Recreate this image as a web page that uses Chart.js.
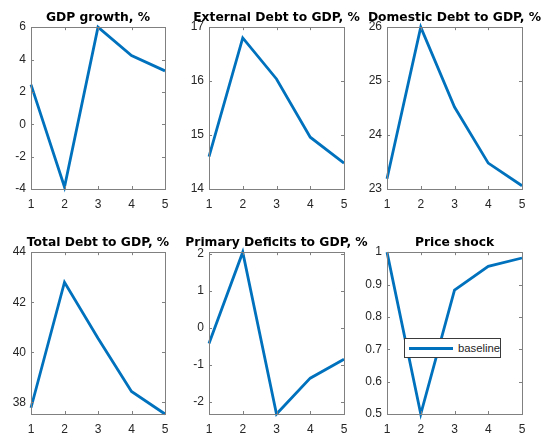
<!DOCTYPE html>
<html>
<head>
<meta charset="utf-8">
<script src="https://cdn.jsdelivr.net/npm/chart.js@4.4.1/dist/chart.umd.min.js"></script>
<style>
html, body { margin: 0; padding: 0; background: #fff; width: 542px; height: 433px; overflow: hidden; }
canvas { position: absolute; }
#legend {
    position: absolute; left: 404px; top: 338px; width: 95px; height: 18px;
    border: 1px solid #3a3a3a; background: #fff;
    font-family: 'Liberation Sans', Arial, sans-serif; font-size: 11.3px; color: #262626;
}
#legend .swatch { position: absolute; left: 4px; top: 8px; width: 44px; height: 3px; background: #0072BD; }
#legend .label { position: absolute; left: 53px; top: 2px; line-height: 14px; }
</style>
</head>
<body>
<div id="legend"><span class="swatch"></span><span class="label">baseline</span></div>
<script>
// horizon (x axis)
const periods = ['1', '2', '3', '4', '5'];

// series
const gdpGrowth     = [2.45, -3.88, 6.0, 4.25, 3.3];
const externalDebt  = [14.6, 16.8, 16.04, 14.96, 14.48];
const domesticDebt  = [23.19, 26.0, 24.52, 23.48, 23.06];
const totalDebt     = [37.79, 42.8, 40.56, 38.44, 37.54];
const primaryDef    = [-0.42, 2.05, -2.33, -1.36, -0.85];
const priceShock    = [1.0, 0.5, 0.883, 0.956, 0.982];

// y tick labels
const gdpTicks      = [-4, -2, 0, 2, 4, 6];
const externalTicks = [14, 15, 16, 17];
const domesticTicks = [23, 24, 25, 26];
const totalTicks    = [38, 40, 42, 44];
const primaryTicks  = [-2, -1, 0, 1, 2];
const priceTicks    = [0.5, 0.6, 0.7, 0.8, 0.9, 1];

const titles = ['GDP growth, %', 'External Debt to GDP, %', 'Domestic Debt to GDP, %',
                'Total Debt to GDP, %', 'Primary Deficits to GDP, %', 'Price shock'];

const panels = [
    { data: gdpGrowth,    ticks: gdpTicks,      min: -4,    max: 6,    col: 0, row: 0 },
    { data: externalDebt, ticks: externalTicks, min: 14,    max: 17,   col: 1, row: 0 },
    { data: domesticDebt, ticks: domesticTicks, min: 23,    max: 26,   col: 2, row: 0 },
    { data: totalDebt,    ticks: totalTicks,    min: 37.54, max: 44,   col: 0, row: 1 },
    { data: primaryDef,   ticks: primaryTicks,  min: -2.33, max: 2.05, col: 1, row: 1 },
    { data: priceShock,   ticks: priceTicks,    min: 0.5,   max: 1,    col: 2, row: 1 }
];

const colLeft = [31, 209, 387];
const colWidth = [134, 135, 135];
const rowTop = [0, 225];
const yAxisW = 31, xAxisH = 21, canvasH = 210;

Chart.defaults.font.family = "'Liberation Sans', Arial, sans-serif";
Chart.defaults.font.size = 12;
Chart.defaults.color = '#262626';

// MATLAB-like box with inward ticks on all four sides
const boxTicks = {
    id: 'boxTicks',
    afterDatasetsDraw(chart) {
        const { ctx, chartArea: a, scales } = chart;
        const len = 3;
        ctx.save();
        ctx.strokeStyle = '#808080';
        ctx.lineWidth = 1;
        ctx.beginPath();
        scales.x.ticks.forEach((t, i) => {
            const px = Math.round(scales.x.getPixelForTick(i)) + 0.5;
            ctx.moveTo(px, a.bottom); ctx.lineTo(px, a.bottom - len);
            ctx.moveTo(px, a.top); ctx.lineTo(px, a.top + len);
        });
        scales.y.ticks.forEach(t => {
            const py = Math.round(scales.y.getPixelForValue(t.value)) + 0.5;
            ctx.moveTo(a.left, py); ctx.lineTo(a.left + len, py);
            ctx.moveTo(a.right, py); ctx.lineTo(a.right - len, py);
        });
        ctx.stroke();
        ctx.strokeRect(Math.round(a.left) + 0.5, Math.round(a.top) + 0.5,
                       Math.round(a.right - a.left), Math.round(a.bottom - a.top));
        ctx.restore();
    }
};

panels.forEach((p, i) => {
    const cv = document.createElement('canvas');
    const w = yAxisW + colWidth[p.col] + yAxisW;
    cv.width = w;
    cv.height = canvasH;
    cv.style.left = (colLeft[p.col] - yAxisW) + 'px';
    cv.style.top = rowTop[p.row] + 'px';
    document.body.insertBefore(cv, document.getElementById('legend'));

    new Chart(cv.getContext('2d'), {
        type: 'line',
        data: {
            labels: periods,
            datasets: [{
                label: 'baseline',
                data: p.data,
                borderColor: '#0072BD',
                borderWidth: 2.8,
                pointRadius: 0,
                tension: 0,
                fill: false,
                clip: false
            }]
        },
        options: {
            responsive: false,
            animation: false,
            events: [],
            layout: { padding: 0 },
            plugins: {
                legend: { display: false },
                tooltip: { enabled: false },
                title: {
                    display: true,
                    text: titles[i],
                    color: '#000',
                    font: { family: "'DejaVu Sans', sans-serif", weight: 'bold', size: 12.3 },
                    padding: { top: 10, bottom: 2.4 }
                }
            },
            scales: {
                x: {
                    grid: { display: false, drawTicks: false },
                    border: { display: false },
                    ticks: { padding: 8, maxRotation: 0, autoSkip: false },
                    afterFit: s => { s.height = xAxisH; }
                },
                y: {
                    min: p.min,
                    max: p.max,
                    grid: { display: false, drawTicks: false },
                    border: { display: false },
                    ticks: { padding: 5, callback: v => String(+v.toFixed(2)) },
                    afterBuildTicks: s => { s.ticks = p.ticks.map(v => ({ value: v })); },
                    afterFit: s => { s.width = yAxisW; }
                },
                // empty right axis, keeps the plot centred under its title
                yRight: {
                    position: 'right',
                    min: p.min,
                    max: p.max,
                    grid: { display: false, drawTicks: false },
                    border: { display: false },
                    ticks: { display: false },
                    afterFit: s => { s.width = yAxisW; }
                }
            }
        },
        plugins: [boxTicks]
    });
});
</script>
</body>
</html>
